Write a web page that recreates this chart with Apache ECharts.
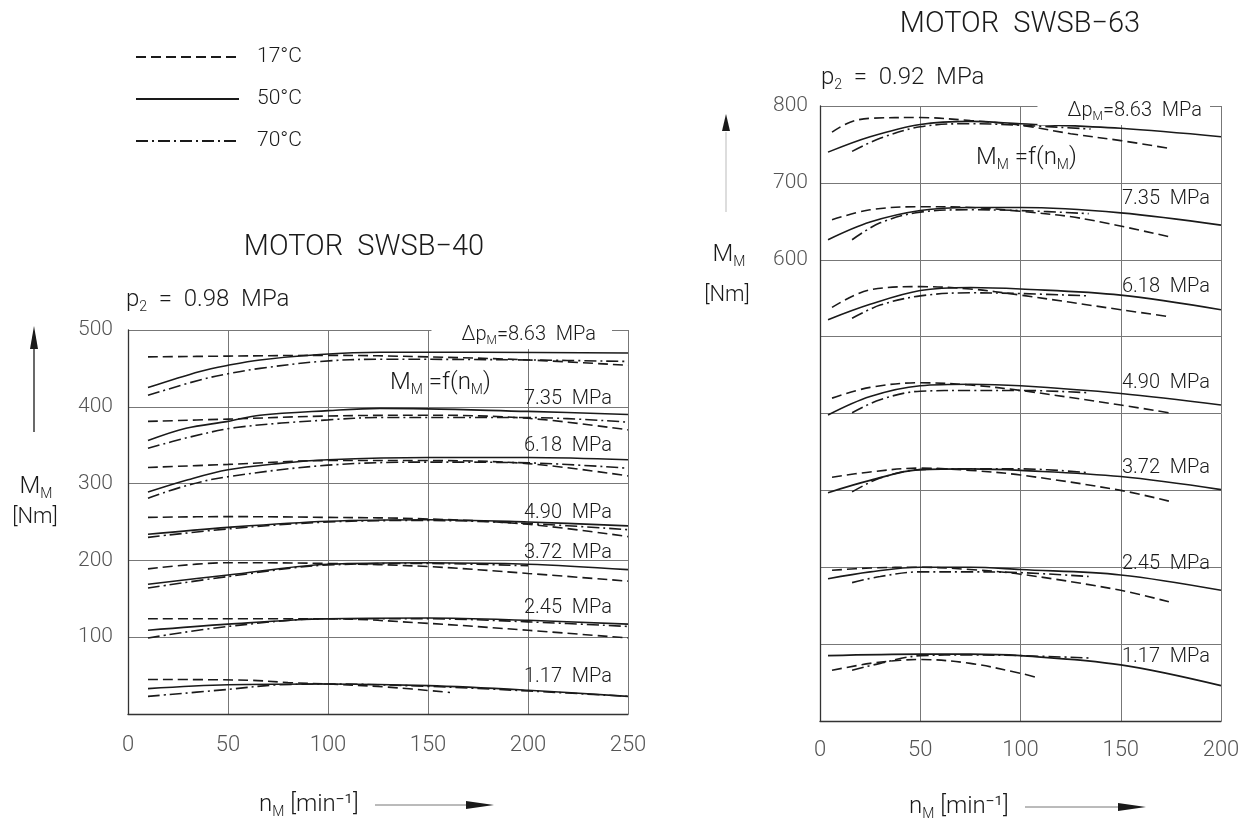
<!DOCTYPE html>
<html>
<head>
<meta charset="utf-8">
<script src="https://cdn.jsdelivr.net/npm/echarts@6/dist/echarts.min.js"></script>
<style>html,body{margin:0;padding:0;background:#fff}#c{width:1245px;height:819px}</style>
</head>
<body>
<div id="c"></div>
<script>
// ---------- DATA : [n_M (min^-1), M_M (Nm)] ----------
// Temperatures (legend)
const temps = ['17°C', '50°C', '70°C'];
// Pressure labels (Δp_M)
const pressures = ['8.63', '7.35', '6.18', '4.90', '3.72', '2.45', '1.17'];

// MOTOR SWSB-40
const a863_17 = [[10,465],[50,466],[100,467],[150,465],[200,461],[250,454]];
const a863_50 = [[10,425],[36,446],[50,454],[66,461],[96,468],[126,471],[175,471],[250,470]];
const a863_70 = [[10,415],[36,435],[50,443],[66,450],[96,459],[126,462],[200,461],[250,459]];
const a735_17 = [[10,381],[50,384],[100,388],[150,389],[200,385],[250,370]];
const a735_50 = [[10,356],[29,372],[50,381],[66,389],[100,395],[126,398],[200,394],[250,390]];
const a735_70 = [[10,346],[30,360],[54,373],[100,383],[126,386],[200,386],[250,380]];
const a618_17 = [[10,321],[50,325],[100,330],[150,330],[200,326],[250,310]];
const a618_50 = [[10,289],[30,305],[50,318],[75,326],[100,331],[150,334],[200,334],[250,331]];
const a618_70 = [[10,281],[30,298],[50,309],[100,324],[150,328],[200,327],[250,320]];
const a490_17 = [[10,256],[50,257],[100,256],[150,254],[200,247],[250,231]];
const a490_50 = [[10,234],[50,243],[100,251],[150,253],[200,250],[250,245]];
const a490_70 = [[10,230],[50,241],[100,250],[150,252],[200,248],[250,240]];
const a372_17 = [[10,189],[50,197],[100,196],[150,192],[200,183],[250,173]];
const a372_50 = [[10,169],[50,181],[100,195],[150,197],[200,195],[250,188]];
const a372_70 = [[10,164],[50,179],[100,194],[150,196],[200,193]];
const a245_17 = [[10,124],[100,124],[150,118],[200,109],[250,99]];
const a245_50 = [[10,109],[50,117],[100,124],[150,125],[200,122],[250,117]];
const a245_70 = [[10,99],[50,114],[100,124],[150,124],[200,120],[250,114]];
const a117_17 = [[10,45],[60,44],[80,41],[100,39],[130,35],[161,28]];
const a117_50 = [[10,33],[50,38],[100,39],[150,37],[200,31],[250,23]];
const a117_70 = [[10,23],[50,32],[75,38],[100,39],[150,36],[200,30],[250,23]];

// MOTOR SWSB-63
const b863_17 = [[6,766],[15,779],[25,784],[50,785],[75,781],[100,775],[125,764],[150,755],[174,745]];
const b863_50 = [[4,740],[25,760],[50,776],[75,780],[100,777],[150,771],[200,760]];
const b863_70 = [[16,741],[30,758],[50,773],[75,777],[100,775],[135,770]];
const b735_17 = [[6,652],[25,665],[50,669],[75,668],[100,663],[130,654],[174,630]];
const b735_50 = [[4,626],[25,649],[50,664],[75,668],[100,668],[150,661],[200,645]];
const b735_70 = [[16,626],[30,648],[50,662],[75,665],[100,664],[134,660]];
const b618_17 = [[6,538],[25,561],[50,565],[75,562],[100,554],[150,535],[174,526]];
const b618_50 = [[4,522],[25,542],[50,560],[75,564],[100,562],[150,554],[200,535]];
const b618_70 = [[16,524],[30,541],[50,553],[75,557],[100,556],[134,553]];
const b490_17 = [[6,420],[25,434],[50,440],[75,437],[100,430],[150,411],[174,401]];
const b490_50 = [[4,398],[25,422],[50,436],[75,438],[100,436],[150,426],[200,411]];
const b490_70 = [[16,401],[30,418],[50,429],[75,430],[100,430],[134,427]];
const b372_17 = [[6,317],[25,324],[50,329],[75,326],[100,320],[150,300],[174,286]];
const b372_50 = [[4,297],[25,313],[50,327],[75,328],[100,326],[150,318],[200,301]];
const b372_70 = [[16,298],[30,316],[50,327],[75,328],[100,328],[134,323]];
const b245_17 = [[6,196],[25,199],[50,200],[75,197],[100,191],[150,170],[174,155]];
const b245_50 = [[4,185],[25,194],[50,200],[75,200],[100,197],[150,190],[200,170]];
const b245_70 = [[16,180],[30,188],[50,194],[75,194],[100,193],[134,188]];
const b117_17 = [[6,66],[25,75],[40,79],[50,80],[75,75],[100,62],[109,56]];
const b117_50 = [[4,85],[50,87],[75,87],[100,85],[150,73],[200,46]];
const b117_70 = [[16,66],[30,75],[50,85],[75,86],[100,85],[134,82]];

// axis ticks
const xTicks40 = [0, 50, 100, 150, 200, 250];
const yTicks40 = [100, 200, 300, 400, 500];
const xTicks63 = [0, 50, 100, 150, 200];
const yTicks63 = [600, 700, 800];

// ---------- BUILD ----------
const curves40 = [
  [a863_17,a863_50,a863_70],[a735_17,a735_50,a735_70],[a618_17,a618_50,a618_70],
  [a490_17,a490_50,a490_70],[a372_17,a372_50,a372_70],[a245_17,a245_50,a245_70],
  [a117_17,a117_50,a117_70]];
const curves63 = [
  [b863_17,b863_50,b863_70],[b735_17,b735_50,b735_70],[b618_17,b618_50,b618_70],
  [b490_17,b490_50,b490_70],[b372_17,b372_50,b372_70],[b245_17,b245_50,b245_70],
  [b117_17,b117_50,b117_70]];

const FONT = 'Roboto, "DejaVu Sans", sans-serif';
const INK = '#1a1a1a';
const DASHES = {'17°C': [10, 5], '50°C': 'solid', '70°C': [12, 4, 2, 4]};

const series = [];
[curves40, curves63].forEach((group, gi) => {
  group.forEach(trip => {
    trip.forEach((data, ti) => {
      const t = temps[ti];
      series.push({
        type: 'line', name: t, xAxisIndex: gi, yAxisIndex: gi, data: data,
        smooth: 0.35, symbol: 'none', silent: true, color: INK,
        lineStyle: {color: INK, width: 1.6, type: DASHES[t]}
      });
    });
  });
});

function txt(x, y, text, size, align, opts) {
  opts = opts || {};
  return {
    type: 'text', x: x, y: y, z: 100, silent: true,
    style: Object.assign({
      text: text, fontFamily: FONT, fontSize: size, fontWeight: 300, fill: INK,
      align: align || 'left', verticalAlign: 'middle',
      rich: {
        m: {fontFamily: FONT, fontSize: size, fontWeight: 300, color: INK, lineHeight: size + 4, verticalAlign: 'middle'},
        s: {fontFamily: FONT, fontSize: Math.round(size * 0.6), fontWeight: 300, color: INK, lineHeight: Math.round(size*0.6), verticalAlign: 'bottom'}
      }
    }, opts)
  };
}

const labelY40 = [335, 399, 446, 513, 553, 608, 677];
const labelY63 = [110, 199, 287, 383, 468, 564, 657];

const graphics = [];
// titles
graphics.push(txt(364, 248, 'MOTOR  SWSB\u221240', 29, 'center'));
graphics.push(txt(1020, 25, 'MOTOR  SWSB\u221263', 29, 'center'));
graphics.push(txt(126, 300, '{m|p}{s|2}{m|  =  0.98  MPa}', 24, 'left'));
graphics.push(txt(821, 78, '{m|p}{s|2}{m|  =  0.92  MPa}', 24, 'left'));
// y titles
graphics.push(txt(36, 487, '{m|M}{s|M}', 24, 'center'));
graphics.push(txt(35, 517, '[Nm]', 22, 'center'));
graphics.push(txt(729, 255, '{m|M}{s|M}', 24, 'center'));
graphics.push(txt(727, 295, '[Nm]', 22, 'center'));
// x titles
graphics.push(txt(259, 805, '{m|n}{s|M}{m| [min\u207B\u00B9]}', 24, 'left'));
graphics.push(txt(909, 807, '{m|n}{s|M}{m| [min\u207B\u00B9]}', 24, 'left'));
// function labels
graphics.push(txt(390, 383, '{m|M}{s|M}{m| =f(n}{s|M}{m|)}', 24, 'left'));
graphics.push(txt(976, 158, '{m|M}{s|M}{m| =f(n}{s|M}{m|)}', 24, 'left'));
// pressure labels
pressures.forEach((p, i) => {
  const t = i === 0 ? '{m|\u0394p}{s|M}{m|=' + p + '  MPa}' : '{m|' + p + '  MPa}';
  graphics.push(txt(612, labelY40[i], t, 20, 'right', i === 0 ? {backgroundColor: '#fff', padding: [2, 16, 2, 30]} : {}));
  graphics.push(txt(1210, labelY63[i], t, 20, 'right', i === 0 ? {backgroundColor: '#fff', padding: [4, 8, 2, 30]} : {}));
});
// arrows
graphics.push({type: 'line', silent: true, shape: {x1: 34, y1: 432, x2: 34, y2: 345}, style: {stroke: INK, lineWidth: 1.3}});
graphics.push({type: 'polygon', silent: true, shape: {points: [[30, 349], [38, 349], [34, 326]]}, style: {fill: INK}});
graphics.push({type: 'line', silent: true, shape: {x1: 726, y1: 212, x2: 726, y2: 132}, style: {stroke: '#bbb', lineWidth: 1}});
graphics.push({type: 'polygon', silent: true, shape: {points: [[722, 131], [730, 131], [726, 114]]}, style: {fill: INK}});
graphics.push({type: 'line', silent: true, shape: {x1: 375, y1: 805, x2: 470, y2: 805}, style: {stroke: '#777', lineWidth: 1}});
graphics.push({type: 'polygon', silent: true, shape: {points: [[466, 801], [494, 805], [466, 809]]}, style: {fill: INK}});
graphics.push({type: 'line', silent: true, shape: {x1: 1025, y1: 807, x2: 1120, y2: 807}, style: {stroke: '#777', lineWidth: 1}});
graphics.push({type: 'polygon', silent: true, shape: {points: [[1118, 803], [1146, 807], [1118, 811]]}, style: {fill: INK}});

const gridLine = {show: true, lineStyle: {color: '#777', width: 1}};
const axisLine = {show: true, lineStyle: {color: '#333', width: 1.3}};
const tickLbl = {fontFamily: FONT, fontWeight: 300, color: '#555'};

const option = {
  animation: false,
  backgroundColor: '#fff',
  legend: {
    orient: 'vertical', left: 130, top: 40, itemWidth: 103, itemHeight: 12, itemGap: 18,
    selectedMode: false, data: temps,
    itemStyle: {opacity: 0},
    textStyle: {fontFamily: FONT, fontSize: 21, fontWeight: 300, color: INK, padding: [0, 0, 0, 13], lineHeight: 24}
  },
  grid: [
    {left: 128, top: 330, width: 500, height: 384},
    {left: 820, top: 106, width: 401, height: 615}
  ],
  xAxis: [
    {type: 'value', gridIndex: 0, min: 0, max: 250, interval: 50, axisLine: axisLine, axisTick: {show: false},
     splitLine: gridLine,
     axisLabel: Object.assign({fontSize: 22, margin: 20, formatter: v => xTicks40.includes(v) ? String(v) : ''}, tickLbl)},
    {type: 'value', gridIndex: 1, min: 0, max: 200, interval: 50, axisLine: axisLine, axisTick: {show: false},
     splitLine: gridLine,
     axisLabel: Object.assign({fontSize: 22, margin: 18, formatter: v => xTicks63.includes(v) ? String(v) : ''}, tickLbl)}
  ],
  yAxis: [
    {type: 'value', gridIndex: 0, min: 0, max: 500, interval: 100, axisLine: axisLine, axisTick: {show: false},
     splitLine: gridLine,
     axisLabel: Object.assign({fontSize: 21, margin: 15, formatter: v => yTicks40.includes(v) ? String(v) : ''}, tickLbl)},
    {type: 'value', gridIndex: 1, min: 0, max: 800, interval: 100, axisLine: axisLine, axisTick: {show: false},
     splitLine: gridLine,
     axisLabel: Object.assign({fontSize: 21, margin: 12, formatter: v => yTicks63.includes(v) ? String(v) : ''}, tickLbl)}
  ],
  series: series,
  graphic: graphics
};

const chart = echarts.init(document.getElementById('c'), null, {renderer: 'canvas'});
chart.setOption(option);
</script>
</body>
</html>
